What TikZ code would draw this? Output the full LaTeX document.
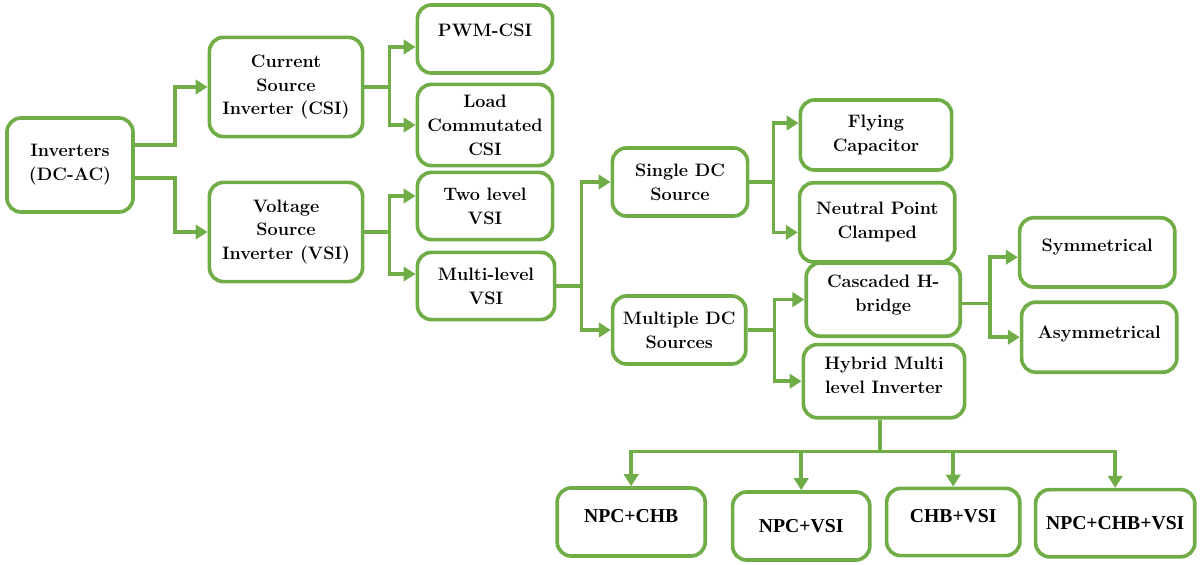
\documentclass[tikz,border=0pt]{standalone}
\usepackage{fontspec}
\newfontfamily\narrowserif{Liberation Serif}
\usepackage{tikz}
\usetikzlibrary{arrows.meta,
                calc,
                positioning,
                shapes.geometric}

\definecolor{leafgreen}{RGB}{112,173,71}

\tikzset{
  invbox/.style={draw=leafgreen, line width=2.6pt, rounded corners=3.5mm,
                 fill=white, align=center, inner sep=2pt,
                 font=\fontsize{12.8}{17}\selectfont\bfseries},
  hybbox/.style={invbox, font=\narrowserif\fontsize{14}{17}\selectfont\bfseries},
  link/.style={draw=leafgreen, line width=2.6pt,
               -{Triangle[length=3mm,width=3.6mm]}},
  up/.style={text depth=#1},
}

\begin{document}
\begin{tikzpicture}

\useasboundingbox (0,0) rectangle (30,-14.125);

% first level
\node[invbox, minimum width=3.15cm, minimum height=2.35cm] (inv) at (1.75,-4.125) {Inverters\\(DC-AC)};

\node[invbox, minimum width=3.83cm, minimum height=2.48cm] (csi) at (7.15,-2.175) {Current\\Source\\Inverter (CSI)};
\node[invbox, minimum width=3.83cm, minimum height=2.48cm] (vsi) at (7.15,-5.8) {Voltage\\Source\\Inverter (VSI)};

\draw[link] ([yshift=5mm]inv.east) -- ++(1,0) |- (csi);
\draw[link] ([yshift=-3.3mm]inv.east) -- ++(1,0) |- (vsi);

% csi and vsi branches
\node[invbox, minimum width=3.38cm, minimum height=1.7cm, up=0.45cm] (pwm) at (12.125,-0.975) {PWM-CSI};
\node[invbox, minimum width=3.38cm, minimum height=2.03cm] (lcc) at (12.125,-3.125) {Load\\Commutated\\CSI};
\node[invbox, minimum width=3.38cm, minimum height=1.68cm] (two) at (12.125,-5.15) {Two level\\VSI};
\node[invbox, minimum width=3.43cm, minimum height=1.68cm] (mlv) at (12.15,-7.15) {Multi-level\\VSI};

\draw[link] (csi.east) -- ++(0.63,0) |- ([yshift=-2mm]pwm.west);
\draw[link] (csi.east) -- ++(0.63,0) |- (lcc);
\draw[link] (vsi.east) -- ++(0.63,0) |- ([yshift=2.5mm]two.west);
\draw[link] (vsi.east) -- ++(0.63,0) |- ([yshift=3mm]mlv.west);

% multilevel sources
\node[invbox, minimum width=3.38cm, minimum height=1.7cm] (sdc) at (17,-4.55) {Single DC\\Source};
\node[invbox, minimum width=3.33cm, minimum height=1.7cm] (mdc) at (16.98,-8.25) {Multiple DC\\Sources};

\draw[link] (mlv.east) -- ++(0.63,0) |- (sdc);
\draw[link] (mlv.east) -- ++(0.63,0) |- (mdc);

\node[invbox, minimum width=3.78cm, minimum height=1.75cm] (fc) at (21.9,-3.375) {Flying\\Capacitor};
\node[invbox, minimum width=3.88cm, minimum height=1.98cm] (npcl) at (21.93,-5.56) {Neutral Point\\Clamped};
\node[invbox, minimum width=3.85cm, minimum height=1.83cm, up=0.3cm] (chb) at (22.08,-7.49) {Cascaded H-\\bridge};
\node[invbox, minimum width=4.03cm, minimum height=1.83cm, up=0.3cm] (hyb) at (22.1,-9.53) {Hybrid Multi\\level Inverter};

\draw[link] (sdc.east) -- ++(0.6,0) |- ([yshift=3mm]fc.west);
\draw[link] (sdc.east) -- ++(0.6,0) |- ([yshift=-2.5mm]npcl.west);
\draw[link] (mdc.east) -- ++(0.67,0) |- (chb);
\draw[link] (mdc.east) -- ++(0.67,0) |- (hyb);

% cascaded h-bridge
\node[invbox, minimum width=3.88cm, minimum height=1.73cm, up=0.35cm] (sym) at (27.43,-6.31) {Symmetrical};
\node[invbox, minimum width=3.88cm, minimum height=1.75cm, up=0.25cm] (asym) at (27.48,-8.43) {Asymmetrical};

\draw[link] ([yshift=-1mm]chb.east) -- ++(0.7,0) |- ([yshift=-1.2mm]sym.west);
\draw[link] ([yshift=-1mm]chb.east) -- ++(0.7,0) |- (asym);

% hybrid combinations
\node[hybbox, minimum width=3.7cm, minimum height=1.7cm, up=0.3cm] (nc) at (15.78,-13.05) {NPC+CHB};
\node[hybbox, minimum width=3.43cm, minimum height=1.7cm] (nv) at (20.03,-13.15) {NPC+VSI};
\node[hybbox, minimum width=3.33cm, minimum height=1.68cm, up=0.3cm] (cv) at (23.83,-13.05) {CHB+VSI};
\node[hybbox, minimum width=3.98cm, minimum height=1.68cm] (ncv) at (27.88,-13.08) {NPC+CHB+VSI};

\draw[draw=leafgreen, line width=2.6pt] ([xshift=-1mm]hyb.south) -- ++(0,-0.8) coordinate (bus);
\draw[link] (bus) -| (nc);
\draw[link] (bus) -| (nv);
\draw[link] (bus) -| (cv);
\draw[link] (bus) -| (ncv);

\end{tikzpicture}
\end{document}
